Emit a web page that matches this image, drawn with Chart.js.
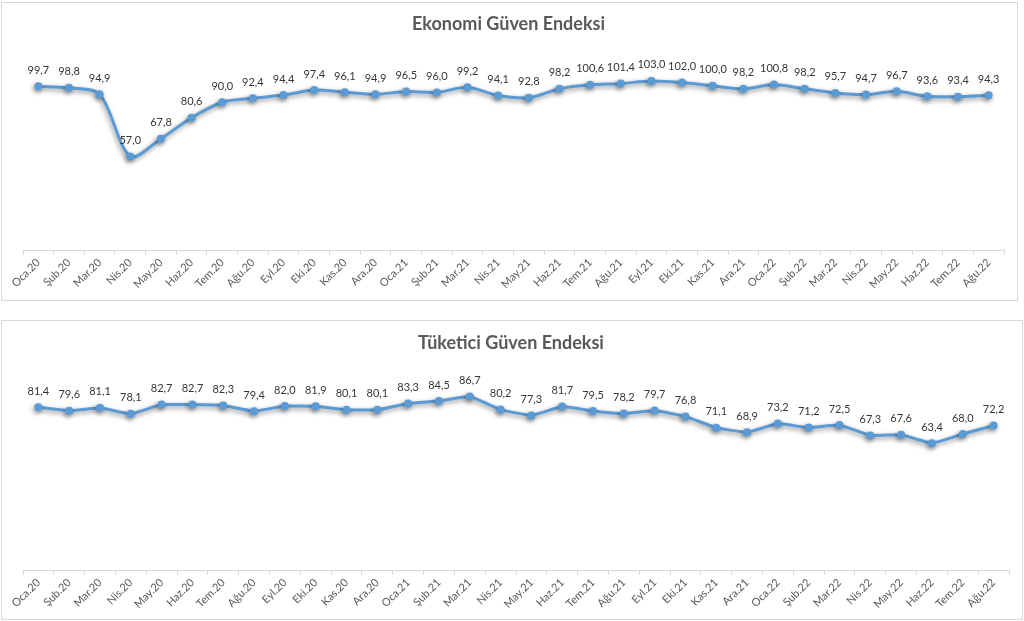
<!DOCTYPE html>
<html><head><meta charset="utf-8">
<script src="https://cdn.jsdelivr.net/npm/chart.js@4.4.1/dist/chart.umd.min.js"></script>
<style>
html,body{margin:0;padding:0;background:#fff;width:1024px;height:621px;overflow:hidden}
.panel{position:absolute;border:1px solid #d9d9d9;background:#fff;box-sizing:border-box}
#p1{left:1px;top:2px;width:1017px;height:299px}
#p2{left:1px;top:320px;width:1022px;height:300px}
canvas{display:block}
</style></head><body>
<div class="panel" id="p1"><canvas id="c1" width="1015" height="297"></canvas></div>
<div class="panel" id="p2"><canvas id="c2" width="1020" height="298"></canvas></div>
<script>
const categories = ["Oca.20","Şub.20","Mar.20","Nis.20","May.20","Haz.20","Tem.20","Ağu.20","Eyl.20","Eki.20","Kas.20","Ara.20",
  "Oca.21","Şub.21","Mar.21","Nis.21","May.21","Haz.21","Tem.21","Ağu.21","Eyl.21","Eki.21","Kas.21","Ara.21",
  "Oca.22","Şub.22","Mar.22","Nis.22","May.22","Haz.22","Tem.22","Ağu.22"];
const ekonomiGuven = [99.7,98.8,94.9,57.0,67.8,80.6,90.0,92.4,94.4,97.4,96.1,94.9,96.5,96.0,99.2,94.1,92.8,98.2,100.6,101.4,103.0,102.0,100.0,98.2,100.8,98.2,95.7,94.7,96.7,93.6,93.4,94.3];
const tuketiciGuven = [81.4,79.6,81.1,78.1,82.7,82.7,82.3,79.4,82.0,81.9,80.1,80.1,83.3,84.5,86.7,80.2,77.3,81.7,79.5,78.2,79.7,76.8,71.1,68.9,73.2,71.2,72.5,67.3,67.6,63.4,68.0,72.2];
const title1 = "Ekonomi Güven Endeksi";
const title2 = "Tüketici Güven Endeksi";

const FONT = "Lato, 'Open Sans', sans-serif";
const BLUE = "#5b9bd5";

const shadowPlugin = {
  id: 'shadowPlugin',
  beforeDatasetDraw(chart){ const c=chart.ctx; c.save(); c.shadowColor='rgba(0,0,0,0.45)'; c.shadowBlur=5; c.shadowOffsetX=-1; c.shadowOffsetY=2; },
  afterDatasetDraw(chart){ chart.ctx.restore(); }
};
const valueLabels = {
  id: 'valueLabels',
  afterDatasetsDraw(chart){
    const ctx = chart.ctx, meta = chart.getDatasetMeta(0), data = chart.data.datasets[0].data;
    ctx.save();
    ctx.font = "11px " + FONT; ctx.fillStyle = '#363636'; ctx.textAlign='center'; ctx.textBaseline='middle';
    meta.data.forEach((pt,i)=>{ ctx.fillText(data[i].toFixed(1).replace('.',','), pt.x, pt.y-16); });
    ctx.restore();
  }
};
const titlePlugin = {
  id: 'titlePlugin',
  afterDraw(chart, args, opts){
    const ctx = chart.ctx;
    ctx.save();
    ctx.font = "bold 18px " + FONT; ctx.fillStyle = '#595959'; ctx.textAlign='center'; ctx.textBaseline='middle';
    ctx.fillText(opts.text, chart.width/2 - 1, opts.y);
    ctx.restore();
  }
};

function makeChart(id, values, yMax, title, titleY, pad, axisH, tension){
  return new Chart(document.getElementById(id), {
    type: 'line',
    data: { labels: categories, datasets: [{ data: values, borderColor: BLUE, backgroundColor: BLUE, borderWidth: 3,
      pointRadius: 4, pointBackgroundColor: BLUE, pointBorderWidth: 0, tension: tension, fill: false }] },
    options: {
      responsive: false, animation: false,
      layout: { padding: pad },
      plugins: { legend: {display:false}, tooltip: {enabled:false}, title: {display:false},
        titlePlugin: { text: title, y: titleY } },
      scales: {
        x: { offset: true,
          grid: { offset: true, drawOnChartArea: false, drawTicks: true, tickLength: 5, color: '#d9d9d9' },
          border: { color: '#d9d9d9', width: 1 },
          ticks: { maxRotation: 45, minRotation: 45, autoSkip: false, padding: 1, color: '#595959', font: { family: FONT, size: 11 } },
          afterFit: s => { s.height = axisH; } },
        y: { display: false, min: 0, max: yMax }
      }
    },
    plugins: [shadowPlugin, valueLabels, titlePlugin]
  });
}
makeChart('c1', ekonomiGuven, 120, title1, 21, {left:21, right:13, top:50, bottom:0}, 50, 0.3);
makeChart('c2', tuketiciGuven, 100, title2, 22, {left:21, right:13, top:49, bottom:0}, 49, 0.1);
</script>
</body></html>
